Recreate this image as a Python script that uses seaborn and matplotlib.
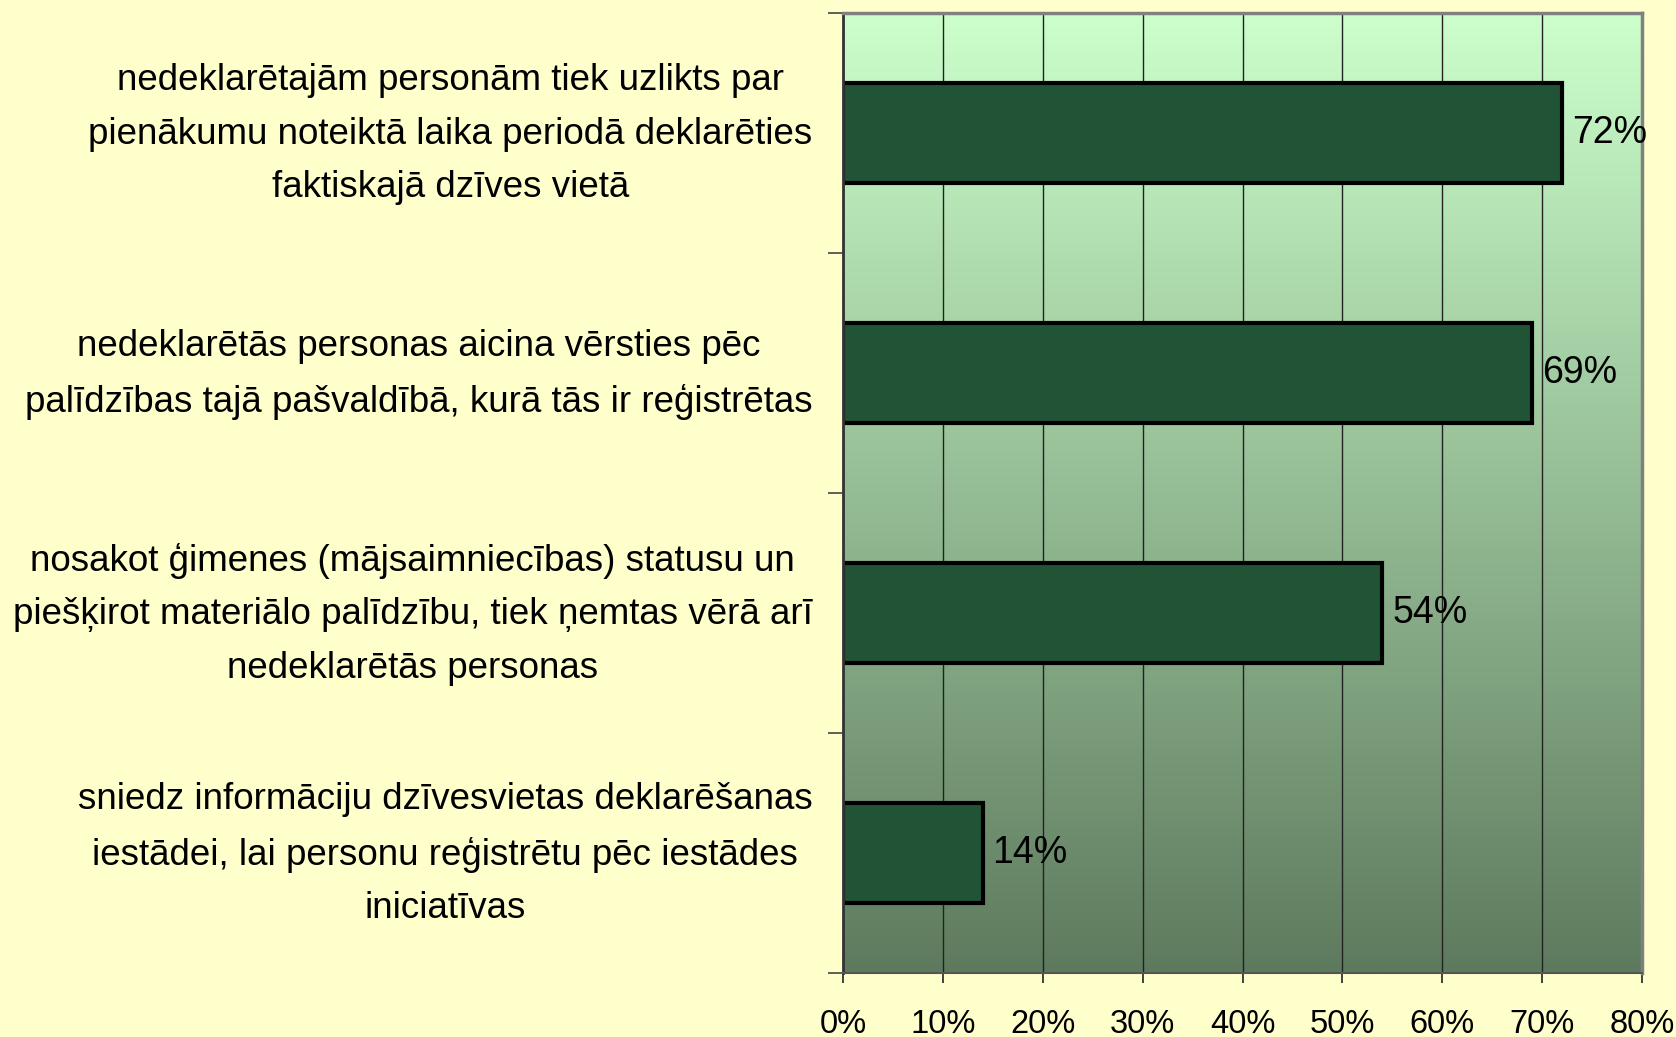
import numpy as np
import pandas as pd
import matplotlib
matplotlib.use("Agg")
import matplotlib.pyplot as plt
from matplotlib.ticker import FixedLocator, FuncFormatter
from matplotlib.transforms import ScaledTranslation
import seaborn as sns

categories = [
    "nedeklarētajām personām tiek uzlikts par\npienākumu noteiktā laika periodā deklarēties\nfaktiskajā dzīves vietā",
    "nedeklarētās personas aicina vērsties pēc\npalīdzības tajā pašvaldībā, kurā tās ir reģistrētas",
    "nosakot ģimenes (mājsaimniecības) statusu un\npiešķirot materiālo palīdzību, tiek ņemtas vērā arī\nnedeklarētās personas",
    "sniedz informāciju dzīvesvietas deklarēšanas\niestādei, lai personu reģistrētu pēc iestādes\niniciatīvas",
]
values = [72, 69, 54, 14]
x_ticks = [0, 10, 20, 30, 40, 50, 60, 70, 80]

sns.set_theme(style="white")
plt.rcParams['font.family'] = ['Liberation Sans', 'DejaVu Sans']

df = pd.DataFrame({"cat": categories, "val": values})

fig = plt.figure(figsize=(16.76, 10.37), dpi=100, facecolor="#FFFFCC")
ax = fig.add_axes([843/1676, 1 - 973/1037, (1642-843)/1676, (973-13)/1037])

# gradient background
top = np.array([204, 255, 204]) / 255
bot = np.array([94, 122, 94]) / 255
t = np.linspace(0, 1, 256)[:, None]
grad = (top[None, :] * (1 - t) + bot[None, :] * t)[:, None, :]
ax.imshow(grad, extent=[0, 1, 0, 1], transform=ax.transAxes, aspect='auto',
          zorder=0, interpolation='bilinear', origin='upper')

sns.barplot(data=df, y="cat", x="val", orient="h", color="#215436",
            width=0.417, edgecolor="black", linewidth=3, saturation=1,
            ax=ax, zorder=3)

ax.set_xlim(0, 80)
ax.set_ylim(3.5, -0.5)
ax.set_xlabel("")
ax.set_ylabel("")

ax.xaxis.set_major_locator(FixedLocator(x_ticks))
ax.xaxis.set_major_formatter(FuncFormatter(lambda v, p: f"{v:.0f}%"))
ax.tick_params(axis='x', which='major', direction='out', length=7, width=1.2,
               color='#222222', pad=19, labelsize=23.5, labelcolor='black',
               bottom=True)

ax.grid(axis='x', color='#222222', linewidth=1.0, alpha=1, zorder=1)
ax.set_axisbelow(True)

# category labels at centers, ticks at boundaries
ax.set_yticks(range(len(categories)))
ax.set_yticklabels(categories, fontsize=26.5, linespacing=1.68,
                   multialignment='center', color='black')
ax.tick_params(axis='y', which='major', length=0, pad=22, left=False)
shift = ScaledTranslation(0, 0.12, fig.dpi_scale_trans)
for lbl in ax.get_yticklabels():
    lbl.set_transform(lbl.get_transform() + shift)
ax.yaxis.set_minor_locator(FixedLocator([0.5, 1.5, 2.5, 3.5, -0.5]))
ax.tick_params(axis='y', which='minor', direction='out', length=11, width=1.2,
               color='#444444', left=True)

for side in ['top', 'right']:
    ax.spines[side].set_color('#808080')
    ax.spines[side].set_linewidth(2.5)
ax.spines['left'].set_color('#333333')
ax.spines['left'].set_linewidth(2)
ax.spines['bottom'].set_color('#555555')
ax.spines['bottom'].set_linewidth(1.5)
for s in ax.spines.values():
    s.set_zorder(5)

for i, v in enumerate(values):
    ax.annotate(f"{v}%", xy=(v, i), xytext=(7, 0), textcoords='offset points',
                va='center', ha='left', fontsize=27, color='black', zorder=6,
                annotation_clip=False)

fig.savefig("out.png", dpi=100, facecolor=fig.get_facecolor())
